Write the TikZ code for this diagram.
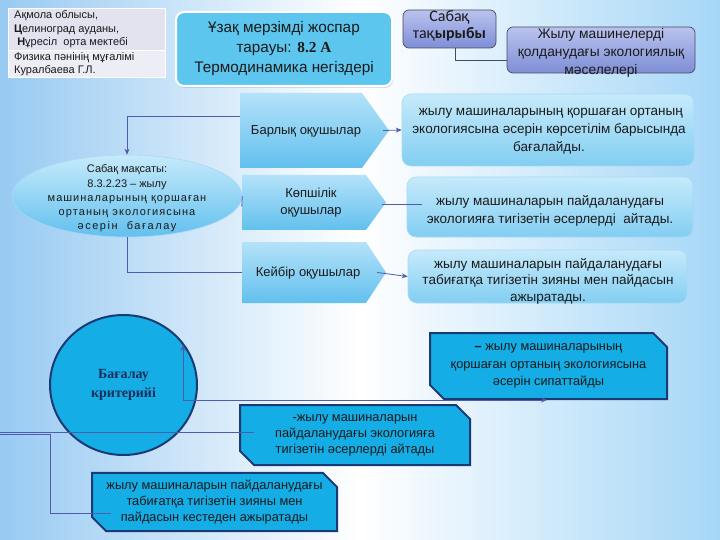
\documentclass[tikz,border=0pt]{standalone}
\usepackage{fontspec}
\setmainfont{Liberation Sans}
\newfontfamily\serifface{Liberation Serif}
\newfontfamily\calface{Carlito}
\usetikzlibrary{arrows.meta,shapes.geometric,shapes.misc,shadows,calc}
\definecolor{bgL}{HTML}{98CAF2}
\definecolor{bgR}{HTML}{A6D7F7}
\definecolor{txtc}{HTML}{1A1A1A}
\definecolor{connc}{HTML}{4F5BAE}
\definecolor{titlef}{HTML}{5CC6EF}
\definecolor{lavA}{HTML}{BAC3EE}
\definecolor{lavB}{HTML}{7E8ED6}
\definecolor{lavD}{HTML}{4A4A5E}
\definecolor{pentA}{HTML}{B4E2F9}
\definecolor{pentB}{HTML}{62C0EE}
\definecolor{rbA}{HTML}{C6EAFB}
\definecolor{rbB}{HTML}{82CEF2}
\definecolor{rbD}{HTML}{A7D9F4}
\definecolor{cyanf}{HTML}{14ADE6}
\definecolor{navy}{HTML}{1B3A73}
\definecolor{tabA}{HTML}{E3E3F0}
\definecolor{tabB}{HTML}{EDEDF6}
\newcommand\spreadtxt[2]{{\addfontfeature{LetterSpace=#1}#2}}
\begin{document}
\begin{tikzpicture}[x=1pt,y=-1pt,
  txt/.style={text=txtc,align=center,inner sep=0pt},
  conn/.style={draw=connc,line width=0.8pt},
  arr/.style={-{Stealth[length=6pt,width=5pt]}},
  pent/.style={inner sep=0pt,text=txtc,align=center,
    path picture={\shade[top color=pentA,bottom color=pentB]
      (path picture bounding box.north west) -- ([xshift=-#1]path picture bounding box.north east)
      -- (path picture bounding box.east) -- ([xshift=-#1]path picture bounding box.south east)
      -- (path picture bounding box.south west) -- cycle;}},
  ptxt/.style={txt,font=\fontsize{13}{17}\selectfont},
  rbox/.style={rounded corners=9pt,top color=rbA,bottom color=rbB,draw=rbD,line width=0.6pt,
    inner sep=0pt,align=center,text=txtc},
  rtxt/.style={txt,font=\fontsize{13.5}{18}\selectfont},
  chbox/.style={chamfered rectangle,chamfered rectangle corners={north east,south west},
    chamfered rectangle xsep=7pt,chamfered rectangle ysep=7pt,fill=cyanf,draw=navy,
    line width=2pt,inner sep=0pt,align=center,text=txtc},
  lavbox/.style={rounded corners=6pt,top color=lavA,bottom color=lavB,draw=lavD,line width=0.7pt,inner sep=0pt}
]
\useasboundingbox (0,0) rectangle (720,540);
\shade[left color=bgL,right color=bgR,middle color=white] (0,0) rectangle (720,540);

% top-left table
\fill[tabA] (8,8) rectangle (165,50);
\fill[tabB] (8,50) rectangle (165,77);
\draw[white,line width=0.8pt] (8,8) rectangle (165,77) (8,50) -- (165,50);
\node[txt,anchor=west,align=left,font=\fontsize{11}{13.5}\selectfont] (tab1) at (14,29.5)
  {Ақмола облысы,\\\textbf{Ц}елиноград ауданы,\\\ \textbf{Н}ұресіл\ \ орта мектебі};
\node[txt,anchor=west,align=left,font=\fontsize{11}{13.5}\selectfont] (tab2) at (14,64)
  {Физика пәнінің мұғалімі\\Куралбаева Г.Л.};

% title
\node[txt,rounded corners=8pt,fill=titlef,draw=white,line width=2pt,minimum width=216pt,minimum height=74pt,
  drop shadow={opacity=0.25,shadow xshift=1pt,shadow yshift=-2pt},font=\fontsize{15.3}{20}\selectfont] (title) at (284,49)
  {Ұзақ мерзімді жоспар\\тарауы: {\serifface\bfseries 8.2 А}\\Термодинамика негіздері};

% lesson topic
\node[lavbox,minimum width=93pt,minimum height=38pt] (sab) at (449.5,29) {};
\node[txt,font=\calface\fontsize{16}{17}\selectfont] at (449.5,26) {Сабақ\\тақ\textbf{ырыбы}};
\node[lavbox,minimum width=188pt,minimum height=46pt] (topic) at (601,50) {};
\node[txt,font=\fontsize{13.8}{18}\selectfont] at (601,53) {Жылу машинелерді\\қолданудағы экологиялық\\мәселелері};
\draw[draw=lavD,line width=0.8pt] ([xshift=5.5pt]sab.south) |- ([yshift=-10pt]topic.west);

% pentagons
\node[pent=27pt,minimum width=149pt,minimum height=75pt] (p1) at (314.5,130.5) {};
\node[ptxt] at (306,131) {Барлық оқушылар};
\node[pent=20pt,minimum width=144pt,minimum height=55pt] (p2) at (314,202.5) {};
\node[ptxt] at (311,203) {Көпшілік\\оқушылар};
\node[pent=20pt,minimum width=144pt,minimum height=61pt] (p3) at (314,272.5) {};
\node[ptxt] at (308,273) {Кейбір оқушылар};

% right boxes
\node[rbox,minimum width=292pt,minimum height=72pt] (b1) at (548,130) {};
\node[rtxt] at (549,131) {\ жылу машиналарының қоршаған ортаның\\экологиясына әсерін көрсетілім барысында\\бағалайды.};
\node[rbox,minimum width=286pt,minimum height=60pt] (b2) at (550,207) {};
\node[rtxt] at (550,211) {жылу машиналарын пайдаланудағы\\экологияға тигізетін әсерлерді\ \ айтады.};
\node[rbox,minimum width=279pt,minimum height=53pt] (b3) at (547.5,276.5) {};
\node[txt,font=\fontsize{13.5}{16.5}\selectfont] at (548,281) {жылу машиналарын пайдаланудағы\\табиғатқа тигізетін зияны мен пайдасын\\ажыратады.};

% ellipse
\node[ellipse,top color=rbA,bottom color=pentB,draw=rbD,line width=0.6pt,minimum width=230pt,minimum height=82pt,inner sep=0pt] (ell) at (127,196) {};
\node[txt,font=\fontsize{11}{14.2}\selectfont] at (127,198.5) {Сабақ мақсаты:\\8.3.2.23 – жылу\\\spreadtxt{9}{машиналарының қоршаған}\\\spreadtxt{10}{ортаның экологиясына}\\\spreadtxt{14}{әсерін\ \ бағалау}};

% connectors upper
\draw[conn,arr] ([yshift=14.5pt]p1.west) -| (ell.north);
\draw[conn] (ell.south) |- (p3.west);
\draw[conn] (ell.east) -- ([yshift=-4pt]p2.west);
\draw[conn,arr] ([xshift=-6pt]p1.east) -- (b1.west);
\draw[conn] ([xshift=-4pt,yshift=-1.5pt]p2.east) -- ++(40,0);
\draw[conn,arr] ([xshift=-9pt]p3.east) -- (b3.west);

% evaluation criteria
\node[ellipse,fill=cyanf,draw=navy,line width=2pt,minimum width=147pt,minimum height=140pt,inner sep=0pt] (crit) at (123.5,385) {};
\node[txt,text=navy!80!black,font=\serifface\bfseries\fontsize{14}{19}\selectfont] at (123.5,385) {Бағалау\\критерийі};

\node[chbox,minimum width=237pt,minimum height=66pt,font=\fontsize{12.8}{17.5}\selectfont] (c1) at (548.5,366)
  {{\bfseries –}\ жылу машиналарының\\қоршаған ортаның экологиясына\\әсерін сипаттайды};
\node[chbox,minimum width=230pt,minimum height=60pt,font=\fontsize{12.8}{16}\selectfont] (c2) at (355,435)
  {-жылу машиналарын\\пайдаланудағы экологияға\\тигізетін әсерлерді айтады};
\node[chbox,minimum width=245pt,minimum height=57pt,font=\fontsize{12.8}{16}\selectfont] (c3) at (214.5,502)
  {жылу машиналарын пайдаланудағы\\табиғатқа тигізетін зияны мен\\пайдасын кестеден ажыратады};

% lower connectors
\draw[conn,{Stealth[length=6pt,width=5pt]}-{Stealth[length=6pt,width=5pt]}]
  ([xshift=-1.5pt]c1.south) -| ([xshift=59.5pt,yshift=40pt]crit.center);
\coordinate (L1) at (0,432);
\coordinate (L2) at (0,434.5);
\coordinate (c2in) at ([xshift=15pt]c2.west);
\coordinate (c3in) at ([xshift=20pt,yshift=-11.5pt]c3.west);
\draw[conn] (L1) -- (L1 -| c2in);
\draw[conn] (L2) -- ++(50,0) |- (c3in);
\end{tikzpicture}
\end{document}
